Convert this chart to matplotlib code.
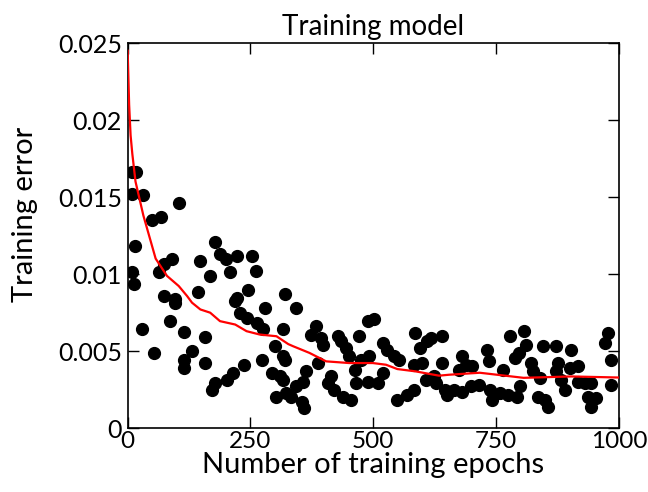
#!/usr/bin/env python3
# -*- coding: utf-8 -*-
"""Training model: training error vs number of epochs (scatter + smoothed curve)."""

import matplotlib
matplotlib.use('Agg')
import matplotlib.pyplot as plt
from matplotlib.ticker import FixedLocator, FuncFormatter

# 每个 epoch 的训练误差（散点）
epochs = [9.5, 16, 32, 9.5, 14, 50, 68, 104, 177, 188, 222, 254, 200, 148, 90,
          73, 63, 9.5, 13, 168, 208, 261, 144, 246, 222, 74, 97, 320, 97, 219,
          279, 229, 242, 263, 276, 87, 30, 114, 158, 316, 53, 131, 114, 114, 158,
          300, 273, 236, 293, 316, 303, 320, 215, 202, 178, 171, 342, 316, 384, 374,
          394, 397, 428, 434, 445, 451, 472, 489, 502, 387, 364, 357, 343, 354, 360,
          323, 333, 310, 414, 407, 421, 438, 455, 462, 475, 492, 465, 489, 509, 519,
          529, 543, 553, 519, 549, 569, 583, 586, 596, 610, 617, 583, 600, 607, 623,
          640, 640, 627, 647, 681, 674, 688, 701, 650, 664, 681, 698, 715, 731, 735,
          765, 738, 742, 758, 775, 792, 799, 779, 806, 812, 796, 789, 822, 826, 839,
          836, 850, 856, 846, 873, 903, 877, 873, 883, 890, 900, 917, 917, 931, 944,
          937, 954, 944, 978, 971, 984, 984]
errors = [0.01663, 0.01663, 0.0151, 0.0152, 0.0118, 0.01353, 0.01369, 0.0146, 0.0121, 0.0113,
          0.01118, 0.01114, 0.0110, 0.01086, 0.01097, 0.01064, 0.0101, 0.0101, 0.00933, 0.00988,
          0.0101, 0.0102, 0.00883, 0.00896, 0.00847, 0.00857, 0.0084, 0.00873, 0.00814, 0.00824,
          0.00781, 0.00749, 0.00716, 0.00683, 0.0064, 0.00694, 0.0064, 0.00622, 0.00592, 0.0064,
          0.00488, 0.00498, 0.00444, 0.0039, 0.00422, 0.00531, 0.00444, 0.00411, 0.00357, 0.00313,
          0.00204, 0.00444, 0.00357, 0.00313, 0.00292, 0.00248, 0.00781, 0.00465, 0.00661, 0.00607,
          0.00586, 0.00542, 0.00596, 0.00563, 0.0052, 0.00465, 0.00596, 0.00694, 0.00705, 0.00422,
          0.00368, 0.00302, 0.0027, 0.00172, 0.00129, 0.00226, 0.00204, 0.00335, 0.00335, 0.00292,
          0.00248, 0.00204, 0.00183, 0.00379, 0.00444, 0.00465, 0.00292, 0.00302, 0.00292, 0.00553,
          0.00509, 0.00465, 0.00444, 0.00357, 0.00183, 0.00215, 0.00248, 0.00618, 0.0052, 0.00563,
          0.00586, 0.00411, 0.00422, 0.00313, 0.00335, 0.00422, 0.00596, 0.00292, 0.00248, 0.00465,
          0.00379, 0.00411, 0.004, 0.00215, 0.00248, 0.00237, 0.0027, 0.00281, 0.00509, 0.00433,
          0.00379, 0.00248, 0.00183, 0.00226, 0.00215, 0.00204, 0.0027, 0.00596, 0.00629, 0.00542,
          0.00488, 0.00455, 0.00422, 0.00368, 0.00324, 0.00204, 0.00183, 0.00139, 0.00531, 0.00531,
          0.00509, 0.00422, 0.00368, 0.00313, 0.00248, 0.0039, 0.004, 0.00302, 0.00292, 0.00292,
          0.00204, 0.00194, 0.00139, 0.00618, 0.00553, 0.00444, 0.00281]

# 平滑曲线（红线）
curve_x = [0, 3, 6, 9.5, 16, 32, 57, 80, 104, 121, 131, 148, 168, 188, 219, 242, 269,
           303, 327, 337, 370, 404, 451, 499, 526, 549, 586, 634, 654, 717, 806, 903, 1000]
curve_y = [0.0245, 0.021, 0.019, 0.0178, 0.016, 0.0138, 0.011, 0.00988, 0.00922, 0.00857,
           0.00814, 0.0077, 0.00749, 0.00694, 0.00672, 0.00629, 0.00607, 0.00596, 0.00545,
           0.00531, 0.00488, 0.00433, 0.00422, 0.00422, 0.00411, 0.00383, 0.00368, 0.0034,
           0.00346, 0.00359, 0.00326, 0.00335, 0.00328]

x_ticks = [0, 250, 500, 750, 1000]
y_ticks = [0, 0.005, 0.01, 0.015, 0.02, 0.025]

plt.rcParams['font.family'] = ['Lato', 'DejaVu Sans']

fig = plt.figure(figsize=(6.48, 4.92), dpi=100)
ax = fig.add_axes([0.197, 0.130, 0.758, 0.7826])

ax.plot(epochs, errors, 'o', color='black', markersize=8.5, zorder=2)
ax.plot(curve_x, curve_y, '-', color='red', linewidth=1.6, zorder=3)

ax.set_xlim(0, 1000)
ax.set_ylim(0, 0.025)
ax.xaxis.set_major_locator(FixedLocator(x_ticks))
ax.yaxis.set_major_locator(FixedLocator(y_ticks))
ax.yaxis.set_major_formatter(FuncFormatter(lambda v, p: '0' if v == 0 else ('%g' % v)))
ax.tick_params(direction='in', length=8, width=1, top=True, right=True,
               labelsize=18, pad=4)
ax.tick_params(axis='x', labelsize=17.5, pad=2)
for s in ax.spines.values():
    s.set_linewidth(1.2)

ax.set_title('Training model', fontsize=20, pad=6)
ax.set_xlabel('Number of training epochs', fontsize=21, labelpad=0)
ax.set_ylabel('Training error', fontsize=21)
ax.yaxis.set_label_coords(-0.182, 0.555)

fig.savefig('out.png', dpi=100)
